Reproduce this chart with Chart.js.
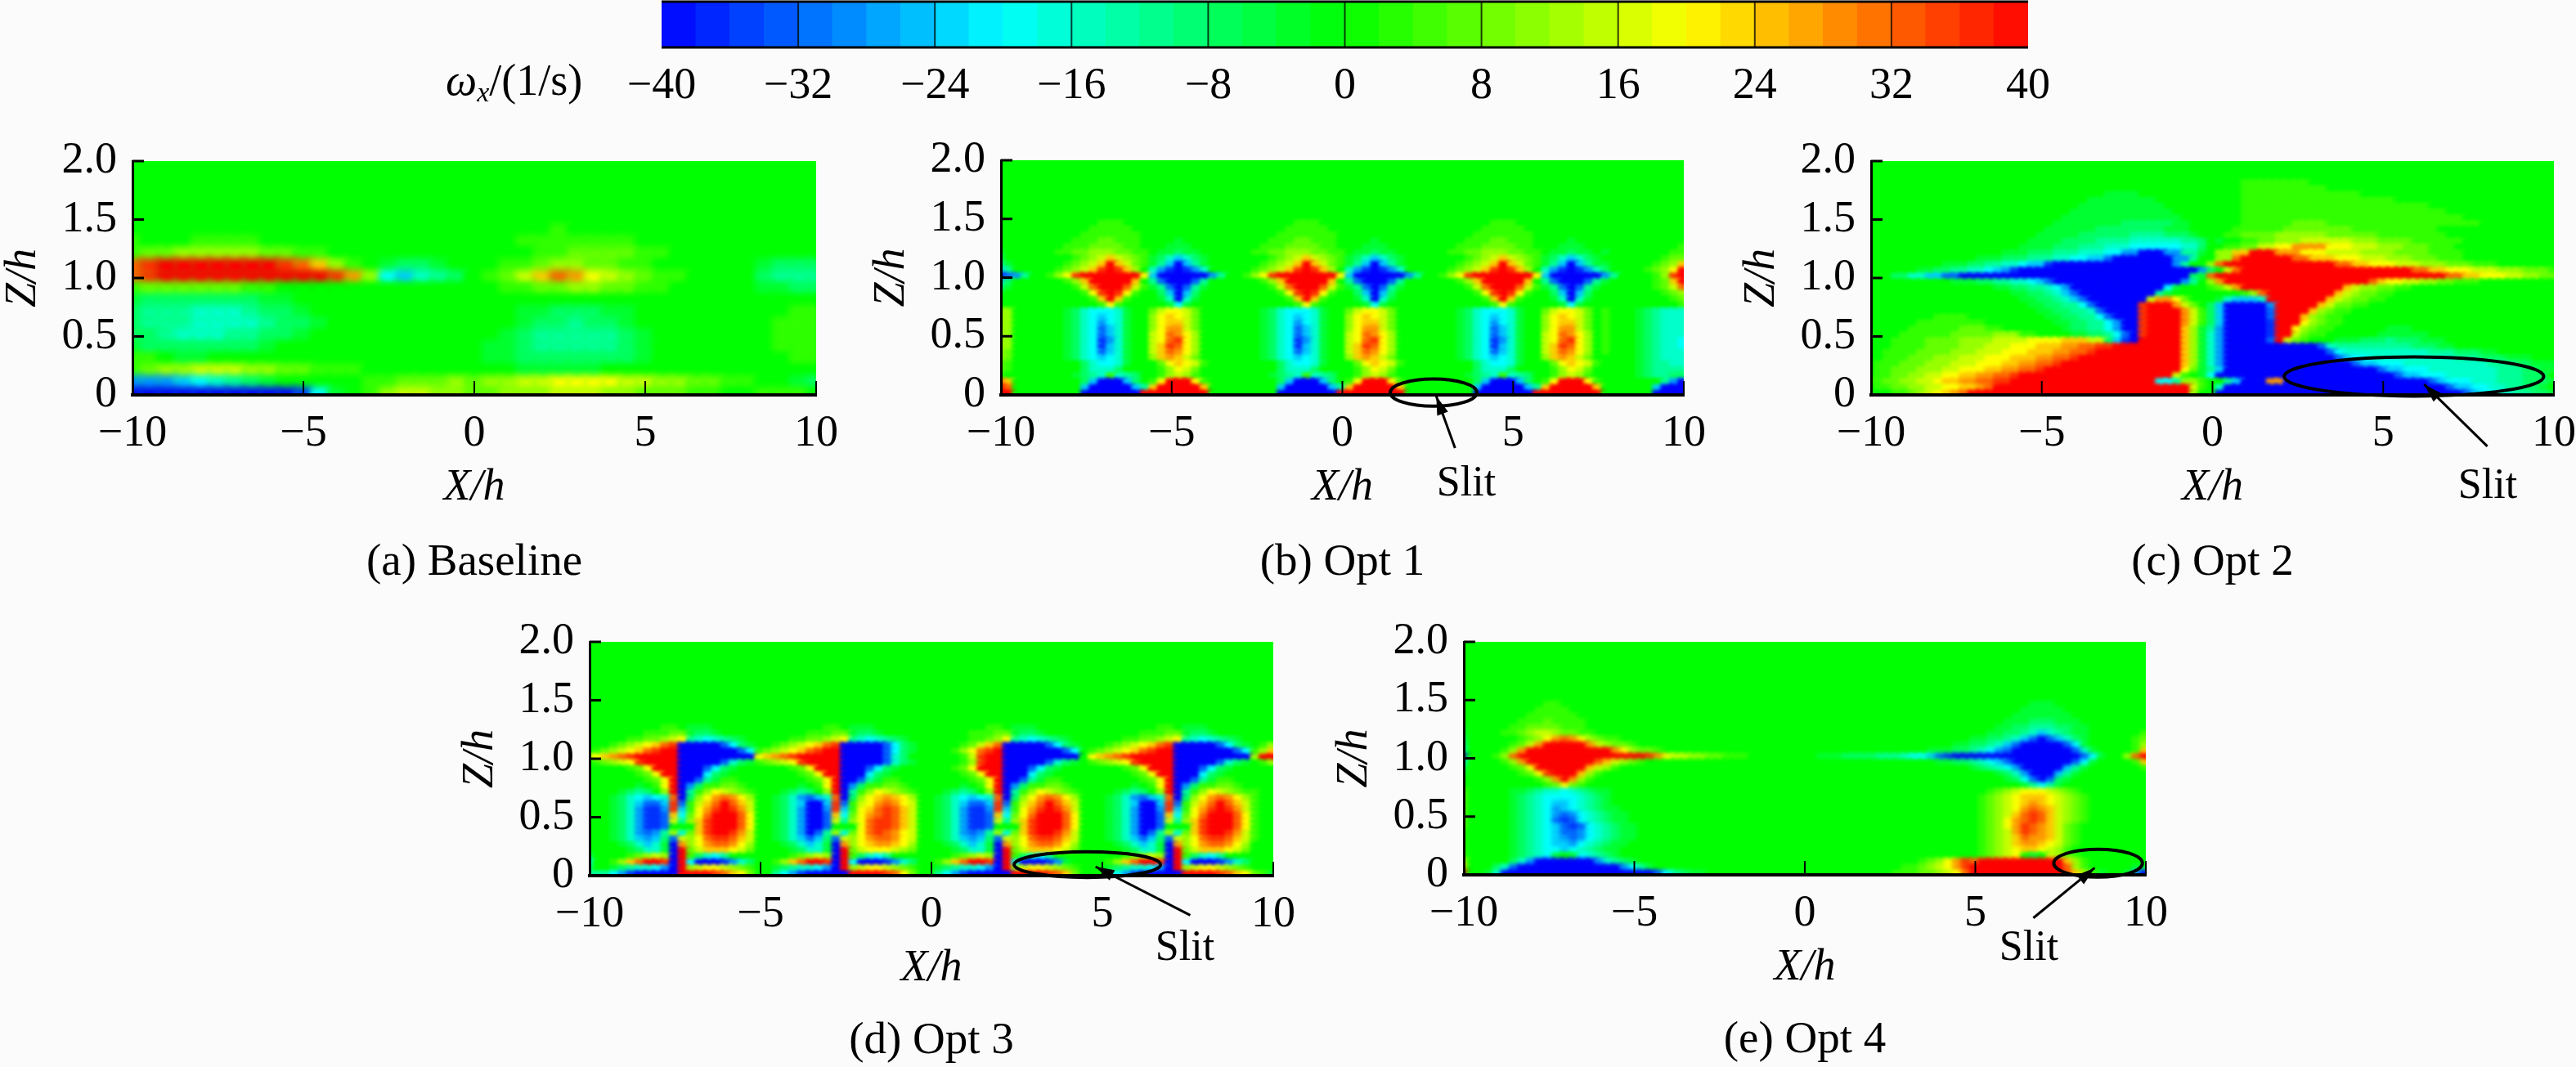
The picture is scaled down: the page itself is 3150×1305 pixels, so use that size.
<!DOCTYPE html>
<html><head><meta charset="utf-8">
<style>html,body{margin:0;padding:0;background:#fbfbfb;width:3150px;height:1305px;overflow:hidden}canvas{position:absolute;display:block}</style>
<script src="https://cdn.jsdelivr.net/npm/chart.js@4"></script>
</head><body>
<script>
// Field values. One row per Z/h level (from 2.0 down to 0), one code per X/h column.
// '.' = 0; A..J = +4..+40; a..j = -4..-40 (1/s). A code followed by a number repeats; spaces are ignored;
// '~' fills with 0 so that the right part ends at the last column; short rows continue with 0.
const baselineRows = ["","","","","","",
".........................A",
"A...AAAA...............AAAAAAA",
"ABBCCCCCBBAA............AABBBBAA",
"HIJJJJJJJIHFCA.abba...AABCCBBAA......abbb",
"HIJJJJJJJJJJIGCefdcb.ABDFHGEDCBAA....bccc",
"ABBBBBBAA.............AABBCCBBAA.....aabb",
"abbbbbbbaa...............................",
"bcccdddcbba............aabbbaa.........AA",
"bcccddddcbba...........abbcbba........AAA",
"bbcdddccbba...........abcccccba.......AAA",
"abbbbbbba............aabcccccba.......AAA",
"AA.aa................aabbbbbbba........AA",
"ABCCDDDCCBBAAA.........aaaaa.............",
"gggfedcba.....AABBBCBCCDDEEEEDDCCBBAA..ab",
"jjjjjjjjjjiea.ACDDCCBBCCCDDDCCBBBAA..AAA."];
const opt1Rows = ["","","","","","","","","","","",
".. ..........AAA.......... ..........AAA.......... ..........AAA.......... ..........",
".. .........AAAAA......... .........AAAAA......... .........AAAAA......... ..........",
".. ........AAAAAAA........ ........AAAAAAA........ ........AAAAAAA........ ..........",
".. .......AAABBAAA....a... .......AAABBAAA....a... .......AAABBAAA....a... ..........",
".. ......AAABBBBAA...aaa.. ......AAABBBBAA...aaa.. ......AAABBBBAA...aaa.. .........A",
"a. .....AABBCCCBBAA.aabaa. .....AABBCCCBBAA.aabaa. .....AABBCCCBBAA.aabaa. a.......AA",
"b. .......ABCDFDCBAabdfdba .......ABCDFDCBAabdfdba .......ABCDFDCBAabdfdba .......ABB",
"ca ......ABCDFJFDBAacfjfca ......ABCDFJFDBAacfjfca ......ABCDFJFDBAacfjfca a.....ABCF",
"fc .....ABCDFIJIFC.dgijigd .....ABCDFIJIFC.dgijigd .....ABCDFIJIFC.dgijigd b....ABCEJ",
"jh gc..ACEIJJJJJJJEfjjjjjj gc..ACEIJJJJJJJEfjjjjjj gc..ACEIJJJJJJJEfjjjjjj gc....ACIJ",
"fb ......ACFJJJJJF.chjjjhc ......ACFJJJJJF.chjjjhc ......ACFJJJJJF.chjjjhc a.....ABFJ",
"ca .......ADHJJJHDAachjhca .......ADHJJJHDAachjhca .......ADHJJJHDAachjhca ......ABDH",
"a. ........AEIJIEA..bfjfb. ........AEIJIEA..bfjfb. ........AEIJIEA..bfjfb. .......ABC",
".. .........AFJFA...adjda. .........AFJFA...adjda. .........AFJFA...adjda. ........AB",
".. ..........AEA.....aea.. ..........AEA.....aea.. ..........AEA.....aea.. .........A",
"CC ......abdeeeda..BDEEDB. ......abdeeeda..BDEEDB. ......abdeeeda..BDEEDB. A...abcddd",
"CC ......abdefeda..CEFEDB. ......abdefeda..CEFEDB. ......abdefeda..CEFEDB. A...abcddd",
"CC ......abdegeda..CEFFDB. ......abdegeda..CEFFDB. ......abdegeda..CEFFDB. A...abcddd",
"CC ......abdehfda..CEGGDB. ......abdehfda..CEGGDB. ......abdehfda..CEGGDB. A...abcddd",
"CC ......abdehfda..DEHGEC. ......abdehfda..DEHGEC. ......abdehfda..DEHGEC. A...abcddd",
"CC ......abdeigda..DEHIEC. ......abdeigda..DEHIEC. ......abdeigda..DEHIEC. A...abcdde",
"CC ......abdeifda..DFIHEC. ......abdeifda..DFIHEC. ......abdeifda..DFIHEC. A...abcdde",
"CB ......abdehfda..DFHGEC. ......abdehfda..DFHGEC. ......abdehfda..DFHGEC. A...abcddd",
"CB ......abdefeda..CFGFDB. ......abdefeda..CFGFDB. ......abdefeda..CFGFDB. ....abcddd",
"BA ........bdeeda...BEFEDA ........bdeeda...BEFEDA ........bdeeda...BEFEDA ....abccdd",
"BA ........bdddb....ACEDB. ........bdddb....ACEDB. ........bdddb....ACEDB. ....abcccc",
"A. .......abcdAdcb..ACDCA. .......abcdAdcb..ACDCA. .......abcdAdcb..ACDCA. ....abccbb",
"HF ........bfjjjfb.AEJJJEA ........bfjjjfb.AEJJJEA ........bfjjjfb.AEJJJEA .......cgj",
"JH ........fjjjjjfcFJJJJJF ........fjjjjjfcFJJJJJF ........fjjjjjfcFJJJJJF ......fjjj",
"JJ ........jjjjjjjJJJJJJJJ ........jjjjjjjJJJJJJJJ ........jjjjjjjJJJJJJJJ ......jjjj"];
const opt2Rows = ["","","","",
".44A8",
".44A10",
".28a4.12A14",
".26a8.10A18",
".25a10.9A22",
".24a12.8A24",
".23a14.7A26",
".22a8b6a2.6A6B4A18",
".21a6b8a3.5A6B8A10",
".20a5b6c4b3a.3A2B4C6B6A8",
".19a4b4c4d6c2b.a.2A2B2C3D6C3B4A6",
".18a4b3c3d3e6d2b.2A2B2D2E2G4E3D3C3B3A3",
".16a3b3c3d3e2g2j3g2c2a.C2F2J3G3E3D4C4B4A4",
".13a3b3c3d2e2f2h1j7g2c.2C2H1J6H2F3E3D3C3B3A3",
".9a3b2c2d2e1f2i1j14g1c1.2C1H1J13H2F2E3D3C3B3A3",
".6a2b2c2d2e1f1g1i1j21g1b1.1D1H1J20H2F2E3D3C3B3A2",
".3b2d2f2h2j27b1a1H1J27H2F2E3D2C2B2A1",
".10a3b2c2d2e1f1h1j15g1c1.1C1G1J17H1F1E2D2C2B2A3",
".15a2b2c2d1e1g1j11e1a1.3A1B1D1G1J12F1D1C2B2A2",
".17a2b2c1d1f1h1j9c1a1.8A1C1H1J8F1D1C1B2A2",
".18a2b2c1d1f1h1j7D1G2E1B1.3a1d1f3d1J7F1D1C1B2A2",
".19a2b2c2e1h1j5I1J3G1D1B1.1b1f1j5g1J5F1D1B2A2",
".20a2b2c2d1h1j4I1J4G1D1A1b1f1j5h1J4F1C1B1A2",
".8A4.9a2b2c2e1h1j3I1J4G1D1A1b1f1j5h1J3F1C1B1A2",
".6A8.8a2b2c2e1g1j2I1J4G1D1A1b1f1j5i1J3E1C1B1A2",
".5A6B3A2.7a1b2c2e1g1j2I1J4F1C1a1c1g1j5i1J2E1C1B1A2.6a3",
".4A6B5C3A2.4a2b2c1e1h1j1I1J4F1C1a1d1g1j5i1J2D1B1A2.6a6",
".3A4B4C4D4E4F3D2b1f1i1j1J5F1C1a1d1g1j5h1J1D1B1A1.3a3b3c1b3a3",
".3A4B4C3D3E3F3G2H2I2J8F1C1a1d1g1j11h1d1c9b3a2",
".2A4B4C3D3E3F3G2H2I1J10F1C1a1d1g1j12h1e1d10c3b3a2",
".2A3B3C3D3E3F3G2H2I1J12F1C1a1d1g1j13h1f1e2d10c3b3a3",
".1A3B3C3D3E3F2G2H2I1J14F1C1a1d1g1j15h1f2e3d10c3b2a3",
".1A2B3C3D2E3F2G2H2I1J16E1B1a1c1f1j18h1f2e3d8c3b2a2",
".1A2B2C2D2E2F2G2H2I1J18D1A1.1a1e1j21h1f2e3d6c3b3",
"A2B2C2D2E1F2G2H2I2J17e2c1C2A1.2c1f1j3G2j17h1f1e3d3c3b3a1",
".1A2B2C2D2E2F2G1H1J23D1A1.1d1j26h1f2e2d2c2b2a1.",
".3A2B1C1D1E1F1G1H1J26C1.2j29h1f1e2d2c2b2a1"];
const opt3Rows = ["","","","","","","","","","","","","","","",
". ........AA.aaa..... ........AA.aaa..... ........AA.aaa..... . ........AA.aaa..... ...",
". ......AAABBabba.... ......AAABBabba.... ......AAABBabba.... . ......AAABBabba.... ...",
". ....AABBCDEcdedcba. ....AABBCDEcdedcba. ......AABCEcdedcba. . ....AABBCDEcdedcba. ...",
". ..ABCDEFHIjjjjjheba ..ABCDEFHIjjjjjheba .....ABDFHjjjjjheba . ..ABCDEFHIjjjjjheba .AC",
". ABCDEFHIJJjjjjjjjhe ABCDEFHIJJjjjjjheba ....ACEHIJjjjjjjjhe . ABCDEFHIJJjjjjjjjhe ACF",
"D EFGHIJJJJJjjjjjjjjj EFGHIJJJJJjjjjjhdb. .....ADIJJjjjjjjjjj . EFGHIJJJJJjjjjjjjjj CJJ",
". ABCDEIJJJJjjjjjhdba ABCDEIJJJJjjjjjhdba .....ACIJJjjjjjhdba . ABCDEIJJJJjjjjjhdba .AC",
". ....ABEJJJjjjheba.. ....ABEJJJjjjheba.. ....ABEJJJjjjheba.. . ....ABEJJJjjjheba.. ...",
". .....ABEJJjjjeba... .....ABEJJjjjeba... .....ABEJJjjjeba... . .....ABEJJjjjeba... ...",
". ......ABEJjjhcaAA.. ......ABEJjjhcaAA.. ......ABEJjjhcaAA.. . ......ABEJjjhcaAA.. ...",
". .....a.AEJjgbAABBA. .....a.AEJjgbAABBA. .....a.AEJjgbAABBA. . .....a.AEJjgbAABBA. ...",
". ...abcb.CJjcACEDCBA ...abcb.CJjcACEDCBA ...abcb.CJjcACEDCBA . ...abcb.CJjcACEDCBA A..",
". ..abdefedHjbCEGHGEC ..abdghfdHjbCEFGFEC ..abdefedHjbCEGHGEC . ..abdghfdHjbCEGHGEC A..",
". ..abdfhhfIhADFHJHFD ..abdfjjfIhADEGHGED ..abdfhhfIhADFHJHFD . ..abdfjjfIhADFHJHFD A..",
". ..abdgiigIfAEGIJIGD ..abdgjjgIfAEFHIHFD ..abdgiigIfAEGIJIGD . ..abdgjjgIfAEGIJIGD A..",
". ..abdgiihFeBEHJJJHE ..abdgjjhFeBEGHIHFD ..abdgiihFeBEHJJJHE . ..abdgjjhFeBEHJJJHE A..",
". ..abdgiihDcCFIJJJHE ..abdgjjhDcCEHIIHFD ..abdgiihDcCFIJJJHE . ..abdgjjhDcCFIJJJHE A..",
". ..abdgiih...FIJJJHE ..abdgjjh...EHIIHFD ..abdgiih...FIJJJHE . ..abdgjjh...FIJJJHE A..",
". ..abdghgcCdBFIJJIGD ..abdgjhcCdBEHIHGED ..abdghgcCdBFIJJIGD . ..abdgjhcCdBFIJJIGD A..",
". ..abdfgfbhDCEHIIHFD ..abdfhfbhDCEGHHGED ..abdfgfbhDCEHIIHFD . ..abdfhfbhDCEHIIHFD A..",
". ...abdfdajGCEGHHGEC ...abdfdajGCEFGGFEC ...abdfdajGCEGHHGEC . ...abdfdajGCEGHHGEC ...",
". ....abddajJBDFFFEDB ....abddajJBDEEEDCB ....abddajJBDFFFEDB . ....abddajJBDFFFEDB ...",
"b ....ABCDCjJAbdec... ....ABCDCjJAbdec... ....ABCDCjJAbdec... . ....ABCDCjJAbdec... ...",
"e ..ACFHJJIjJejjjigdb ..ACFHJJIjJejjjigdb ..ACFHJJIjJejjjiga. . ..ACFHJJIjJejjjigdb ...",
"c ..abcddegjJCDEEDCBA ..abcddegjJCDEEDCBA ..abcddegjJCDEEDCBA . ..abcddegjJCDEEDCBA ...",
"c ccegijjjjjJJJJIHFEB ..cegijjjjjJJJJIHEB ..cegijjjjjJJJJIHFB . ..cegijjjjjJJJJIHFE BAa"];
const opt4Rows = ["","","","","","","","","","","",
"..........AA~aaa...........",
".........AAAA~aaaaa..........",
"........AAAAAA~aaaaaaa.........",
".......AAABAAAA~aaabbbaaa........",
"a.....AABBBBAAA~aabbcccbbaa.......",
"a....AABCDDCBBAA~aabbcdfdcbaa......A",
"b......ABCEGHGECBAA~aabbcdfhjhfdba.....AB",
"c.....ABDGJJJJJGDCBBA~aabbcdfhjjjjjhea.....AC",
"d....ACGJJJJJJJJJJGECBBA~aaabbcdeghjjjjjjjhda....AF",
"j...ACHJJJJJJJJJJJJJJJIGEDDCCBBAAA~aaabbbbcccdeefhijjjjjjjjjjjjjjjhea..CHJ",
"e....ACGJJJJJJJJHFDCBA~aabbcdefhjjjjjjjhea....AF",
"b.....ABEJJJJJJFDCA~abcdegjjjjjfca......A",
"a......ABEIJJJFCA~abdgjjjfca........",
".........ACGJGCA~abehjhba.........",
"..........ABEBA~aceca..........",
"B.....aabcddedcbaa~ABCDEEEDCBA........",
"B.....abcdeeeedcba~ABCDEFFFEDCBA.......",
"B.....abcdeffedcba~ABCDEFGFEDCBA.......",
"B.....abcdegfedcbaa~ABCDEGHGFDCBA.......",
"B.....abcdeghgedcbaa~ABCDFHIHFDCBA.......",
"B.....abcdehihedcbaa~ABCEGHIHFDCBA.......",
"B.....abcdefhihedcbaa~ABCEGIHGFDBA........",
"A.....abcdefhhgedcbaa~ABCDGIHGFDBA........",
"A.....abcdefghgedcbaa~ABCDFHGGFDBA........",
"A.....abcdeffgedcbaa~ABCDFGGFEDBA........",
"A.....abcdeefedcbaa~ABCDEFFEDCA.........",
"A.....abcdea.aedcba~ABCDE.a.DCBA........",
"D.....bdgjjjjjjjgdcba~ABCEGIHJJJJJJJJJJFCA.......",
"F...bdhjjjjjjjjjjjjgeca~AABCDEGIJJJJJJJJJJJHCA.....aa",
"J..adjjjjjjjjjjjjjjjjjjhecbaa~AAABBCDEHJJJJJJJJJJJHFCAa..agj"];

const panelNames = ["(a) Baseline","(b) Opt 1","(c) Opt 2","(d) Opt 3","(e) Opt 4"];
const xTickValues = [-10,-5,0,5,10];
const zTickValues = [0,0.5,1,1.5,2];
const barTickValues = [-40,-32,-24,-16,-8,0,8,16,24,32,40];
const barLevels = [-39,-37,-35,-33,-31,-29,-27,-25,-23,-21,-19,-17,-15,-13,-11,-9,-7,-5,-3,-1,1,3,5,7,9,11,13,15,17,19,21,23,25,27,29,31,33,35,37,39];

// Layout of the plot areas and annotation marks (not data)
const panels = [
 {rows:baselineRows,cols:41,blur:4,L:162,R:998,T:197,B:483,xH:178},
 {rows:opt1Rows,cols:81,blur:2.2,L:1224,R:2059,T:196,B:483,xH:178,
  ell:[2.67,0.02,1.27,0.116],arrow:[3.3,-0.453,2.75,-0.01],slit:[1793,592]},
 {rows:opt2Rows,cols:81,blur:2,L:2288,R:3123,T:197,B:483,xH:178,
  ell:[5.9,0.158,3.8,0.168],arrow:[8.05,-0.44,6.2,0.09],slit:[3042,595]},
 {rows:opt3Rows,cols:81,blur:2,L:721,R:1557,T:785,B:1071,xH:175,
  ell:[4.56,0.095,2.14,0.11],arrow:[7.57,-0.338,4.8,0.077],slit:[1449,1160]},
 {rows:opt4Rows,cols:81,blur:2.5,L:1790,R:2624,T:785,B:1070,xH:175,
  ell:[8.6,0.1,1.3,0.12],arrow:[6.7,-0.37,8.5,0.06],slit:[2481,1160]}
];

const FONT='"Liberation Serif"';
Chart.defaults.font.family=FONT;
Chart.defaults.color='#000';
Chart.defaults.animation=false;

const stops=[[-40,0,0,255],[-20,0,255,255],[0,0,255,0],[20,255,255,0],[40,255,0,0]];
function fieldColor(v){
  v=Math.max(-40,Math.min(40,v));
  for(let i=0;i<4;i++){const a=stops[i],b=stops[i+1];
    if(v<=b[0]){const t=(v-a[0])/(b[0]-a[0]);
      return `rgb(${Math.round(a[1]+t*(b[1]-a[1]))},${Math.round(a[2]+t*(b[2]-a[2]))},${Math.round(a[3]+t*(b[3]-a[3]))})`;}}
  return 'rgb(255,0,0)';
}
function charValue(c){
  if(c==='.')return 0;
  const u=c.charCodeAt(0);
  if(u>=65&&u<=74)return (u-64)*4;
  if(u>=97&&u<=106)return -(u-96)*4;
  return 0;
}
function expandRow(r,cols){
  const run=t=>t.replace(/ /g,'').replace(/([.A-Ja-j])(\d+)/g,(m,c,n)=>c.repeat(+n));
  const parts=r.split('~');
  if(parts.length===2){
    const a=run(parts[0]),b=run(parts[1]);
    return a.padEnd(Math.max(0,cols-b.length),'.')+b;
  }
  return run(r).padEnd(cols,'.');
}
function cellsFrom(rows,cols){
  const pts=[],n=rows.length;
  rows.forEach((r,ri)=>{
    const s=expandRow(r,cols);
    for(let i=0;i<cols;i++){
      pts.push({x:-10+20*i/(cols-1),y:2-2*ri/(n-1),v:charValue(s[i])});
    }
  });
  return pts;
}
function spriteMaker(cw,ch,blur){
  const cache={};
  return v=>{
    if(cache[v])return cache[v];
    const m=Math.ceil(blur*3)+3,c=document.createElement('canvas');
    c.width=Math.ceil(cw)+2*m+4;c.height=Math.ceil(ch)+2*m+4;
    const g=c.getContext('2d');
    g.filter=`blur(${blur}px)`;
    g.fillStyle=fieldColor(v);
    g.fillRect(m,m,c.width-2*m,c.height-2*m);
    return cache[v]=c;
  };
}
function fmtX(v){return v<0?'\u2212'+Math.abs(v):String(v);}
function fmtZ(v){return v===0?'0':v.toFixed(1);}
function noScalePadding(s){s.paddingTop=0;s.paddingBottom=0;s.paddingLeft=0;s.paddingRight=0;}

const panelMarks={id:'panelMarks',
  beforeDatasetsDraw(ch,a,o){
    const A=ch.chartArea,g=ch.ctx;g.save();g.fillStyle=fieldColor(0);
    g.fillRect(A.left,A.top,A.right-A.left,A.bottom-A.top);g.restore();
  },
  afterDraw(ch,a,o){
    const g=ch.ctx,X=ch.scales.x,Y=ch.scales.y,A=ch.chartArea;
    g.save();g.strokeStyle='#000';g.fillStyle='#000';
    g.lineWidth=2;
    xTickValues.forEach(v=>{const p=X.getPixelForValue(v);g.beginPath();g.moveTo(p,A.bottom);g.lineTo(p,A.bottom-17);g.stroke();});
    g.lineWidth=3;
    zTickValues.forEach(v=>{const p=Y.getPixelForValue(v);g.beginPath();g.moveTo(A.left,p);g.lineTo(A.left+14,p);g.stroke();});
    const P=o.panel;
    if(P.ell){
      const [cx,cz,rx,rz]=P.ell;
      g.lineWidth=4;g.beginPath();
      g.ellipse(X.getPixelForValue(cx),Y.getPixelForValue(cz),Math.abs(X.getPixelForValue(cx+rx)-X.getPixelForValue(cx)),Math.abs(Y.getPixelForValue(cz+rz)-Y.getPixelForValue(cz)),0,0,Math.PI*2);
      g.stroke();
      const [x1,z1,x2,z2]=P.arrow;
      const ax=X.getPixelForValue(x1),ay=Y.getPixelForValue(z1),bx=X.getPixelForValue(x2),by=Y.getPixelForValue(z2);
      const t=Math.atan2(by-ay,bx-ax);
      g.lineWidth=3;g.beginPath();g.moveTo(ax,ay);g.lineTo(bx,by);g.stroke();
      g.beginPath();g.moveTo(bx,by);g.lineTo(bx-24*Math.cos(t-0.3),by-24*Math.sin(t-0.3));g.lineTo(bx-24*Math.cos(t+0.3),by-24*Math.sin(t+0.3));g.closePath();g.fill();
      g.font=`52px ${FONT}`;g.textAlign='center';g.textBaseline='middle';
      const r=ch.canvas.getBoundingClientRect();
      g.fillText('Slit',P.slit[0]-r.left,P.slit[1]-r.top);
    }
    g.restore();
  }
};

panels.forEach((P,idx)=>{
  const c=document.createElement('canvas');
  const w=P.R-P.L, h=P.B-P.T;
  const cw=w/(P.cols-1), chh=h/(P.rows.length-1);
  c.width=160+w+70; c.height=30+h+P.xH+55;
  c.style.left=(P.L-160)+'px'; c.style.top=(P.T-30)+'px';
  c.style.width=c.width+'px'; c.style.height=c.height+'px';
  document.body.appendChild(c);
  const sprite=spriteMaker(cw,chh,P.blur);
  new Chart(c,{
    type:'scatter',
    data:{datasets:[{label:'\u03c9x '+panelNames[idx],data:cellsFrom(P.rows,P.cols),
      pointStyle:ctx=>sprite(ctx.raw?ctx.raw.v:0),pointRadius:6,pointHoverRadius:6,showLine:false,clip:0}]},
    options:{responsive:false,devicePixelRatio:1,animation:false,events:[],
      layout:{padding:{top:30,right:70,left:0,bottom:0}},
      plugins:{legend:{display:false},tooltip:{enabled:false},
        title:{display:true,position:'bottom',fullSize:false,text:panelNames[idx],font:{size:55,weight:'normal',lineHeight:1},padding:0,color:'#000'},
        panelMarks:{panel:P}},
      scales:{
        x:{type:'linear',min:-10,max:10,
          afterBuildTicks:s=>{s.ticks=xTickValues.map(v=>({value:v}));},
          afterFit:s=>{s.height=P.xH;noScalePadding(s);},
          grid:{display:false,drawTicks:false},
          border:{display:true,color:'#000',width:4,z:2},
          ticks:{autoSkip:false,maxRotation:0,padding:15,font:{size:54},color:'#000',callback:fmtX},
          title:{display:true,text:'X/h',font:{size:54,style:'italic',lineHeight:1},color:'#000',padding:{top:0,bottom:P.xH-114-27}}},
        y:{type:'linear',min:0,max:2,
          afterBuildTicks:s=>{s.ticks=zTickValues.map(v=>({value:v}));},
          afterFit:s=>{s.width=160;noScalePadding(s);},
          grid:{display:false,drawTicks:false},
          border:{display:true,color:'#000',width:3,z:2},
          ticks:{autoSkip:false,padding:19,font:{size:54},color:'#000',callback:fmtZ},
          title:{display:true,text:'Z/h',font:{size:54,style:'italic',lineHeight:1},color:'#000',padding:{top:0,bottom:0}}}
      }},
    plugins:[panelMarks]
  });
});

// Colour bar
(function(){
  const L=809,R=2480,T=2,B=58;
  const c=document.createElement('canvas');
  c.width=R-520+80; c.height=140;
  c.style.left='520px'; c.style.top='0px';
  c.style.width=c.width+'px'; c.style.height='140px';
  document.body.appendChild(c);
  const barMarks={id:'barMarks',afterDraw(ch){
    const g=ch.ctx,X=ch.scales.x,A=ch.chartArea;
    g.save();g.strokeStyle='rgba(0,0,0,.75)';g.lineWidth=2;
    barTickValues.slice(1,-1).forEach(v=>{const p=X.getPixelForValue(v);g.beginPath();g.moveTo(p,A.top);g.lineTo(p,A.bottom);g.stroke();});
    g.strokeStyle='#000';g.lineWidth=3;
    g.beginPath();g.moveTo(A.left,A.top);g.lineTo(A.right,A.top);g.moveTo(A.left,A.bottom);g.lineTo(A.right,A.bottom);g.stroke();
    g.fillStyle='#000';g.textBaseline='alphabetic';g.textAlign='left';
    let px=25;const base=116;
    g.font=`italic 54px ${FONT}`;g.fillText('\u03c9',px,base);px+=g.measureText('\u03c9').width;
    g.font=`italic 34px ${FONT}`;g.fillText('x',px,base+8);px+=g.measureText('x').width;
    g.font=`54px ${FONT}`;g.fillText('/(1/s)',px,base);
    g.restore();
  }};
  new Chart(c,{
    type:'bar',
    data:{datasets:[{label:'\u03c9x',data:barLevels.map(v=>({x:v,y:1})),
      backgroundColor:barLevels.map(fieldColor),borderWidth:0,barPercentage:1,categoryPercentage:1}]},
    options:{responsive:false,devicePixelRatio:1,animation:false,events:[],
      layout:{padding:{top:T,right:80,left:L-520,bottom:0}},
      plugins:{legend:{display:false},tooltip:{enabled:false}},
      scales:{
        x:{type:'linear',min:-40,max:40,offset:false,
          afterBuildTicks:s=>{s.ticks=barTickValues.map(v=>({value:v}));},
          afterFit:s=>{s.height=140-B;noScalePadding(s);},
          grid:{display:false,drawTicks:false},border:{display:false},
          ticks:{autoSkip:false,maxRotation:0,padding:15,font:{size:54},color:'#000',callback:fmtX}},
        y:{display:false,min:0,max:1}
      }},
    plugins:[barMarks]
  });
})();
</script>
</body></html>
